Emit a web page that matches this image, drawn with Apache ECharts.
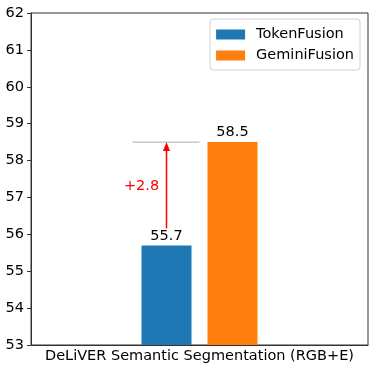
<!DOCTYPE html>
<html>
<head>
<meta charset="utf-8">
<script src="https://cdn.jsdelivr.net/npm/echarts@6/dist/echarts.min.js"></script>
<style>html,body{margin:0;padding:0;background:#fff}#c{width:375px;height:371px}</style>
</head>
<body>
<div id="c"></div>
<script>
var categories = ['DeLiVER Semantic Segmentation (RGB+E)'];
var seriesNames = ['TokenFusion', 'GeminiFusion'];
var tokenFusion = [55.7];
var geminiFusion = [58.5];
var gainLabel = ['+2.8'];
var yMin = 53, yMax = 62, yStep = 1;

var FONT = 'DejaVu Sans';
var FS = 14.5;
var BAR_W = 50, GAP = 16;
var chart = echarts.init(document.getElementById('c'), null, {renderer: 'canvas'});

function annot(params, api) {
  var base = tokenFusion[0], top = geminiFusion[0];
  var c = api.coord([0, top]);
  var cb = api.coord([0, base]);
  var blueX = c[0] - (BAR_W + GAP) / 2;
  var yTop = c[1], yBase = cb[1];
  var arrowStart = yBase - 17;
  return {
    type: 'group',
    children: [
      {type: 'line', shape: {x1: blueX - 34, y1: yTop, x2: c[0], y2: yTop},
       style: {stroke: '#999', lineWidth: 0.8}},
      {type: 'line', shape: {x1: blueX, y1: arrowStart, x2: blueX, y2: yTop + 6},
       style: {stroke: '#ff0000', lineWidth: 1.5}},
      {type: 'polygon', shape: {points: [[blueX, yTop], [blueX - 3.5, yTop + 9], [blueX + 3.5, yTop + 9]]},
       style: {fill: '#ff0000'}},
      {type: 'text', x: blueX - 25, y: (yTop + arrowStart) / 2 + 1,
       style: {text: gainLabel[0], fill: '#ff0000', font: FS + 'px ' + FONT, align: 'center', verticalAlign: 'middle'}}
    ]
  };
}

var valLabel = {show: true, position: 'top', distance: 2, color: '#000', fontFamily: FONT, fontSize: FS,
  formatter: function (p) { return p.value.toFixed(1); }};

chart.setOption({
  animation: false,
  textStyle: {fontFamily: FONT},
  grid: {left: 31, right: 7, top: 13, bottom: 26, show: true, borderColor: '#333', borderWidth: 1, containLabel: false},
  legend: {
    orient: 'vertical', right: 15, top: 19,
    data: seriesNames,
    itemWidth: 29, itemHeight: 10, itemGap: 6,
    padding: [8, 6, 7, 6],
    borderColor: '#d0d0d0', borderWidth: 1, borderRadius: 3,
    backgroundColor: '#fff',
    textStyle: {fontFamily: FONT, fontSize: FS, color: '#000', padding: [0, 0, 0, 6]},
    icon: 'rect'
  },
  xAxis: [{
    type: 'category', data: categories,
    axisLine: {lineStyle: {color: '#333', width: 1}},
    axisTick: {show: false},
    axisLabel: {fontFamily: FONT, fontSize: FS, color: '#000', margin: 4}
  }],
  yAxis: [{
    type: 'value', min: yMin, max: yMax, interval: yStep,
    axisLine: {show: true, lineStyle: {color: '#333', width: 1}},
    axisTick: {show: true, length: 4, lineStyle: {color: '#333'}},
    splitLine: {show: false},
    axisLabel: {fontFamily: FONT, fontSize: FS, color: '#000', margin: 7}
  }],
  series: [
    {name: seriesNames[0], type: 'bar', data: tokenFusion, barWidth: BAR_W, barGap: (GAP / BAR_W * 100) + '%',
     itemStyle: {color: '#1f77b4'}, label: valLabel},
    {name: seriesNames[1], type: 'bar', data: geminiFusion, barWidth: BAR_W,
     itemStyle: {color: '#ff7f0e'}, label: valLabel},
    {type: 'custom', renderItem: annot, data: [0], silent: true, z: 5}
  ]
});
</script>
</body>
</html>
